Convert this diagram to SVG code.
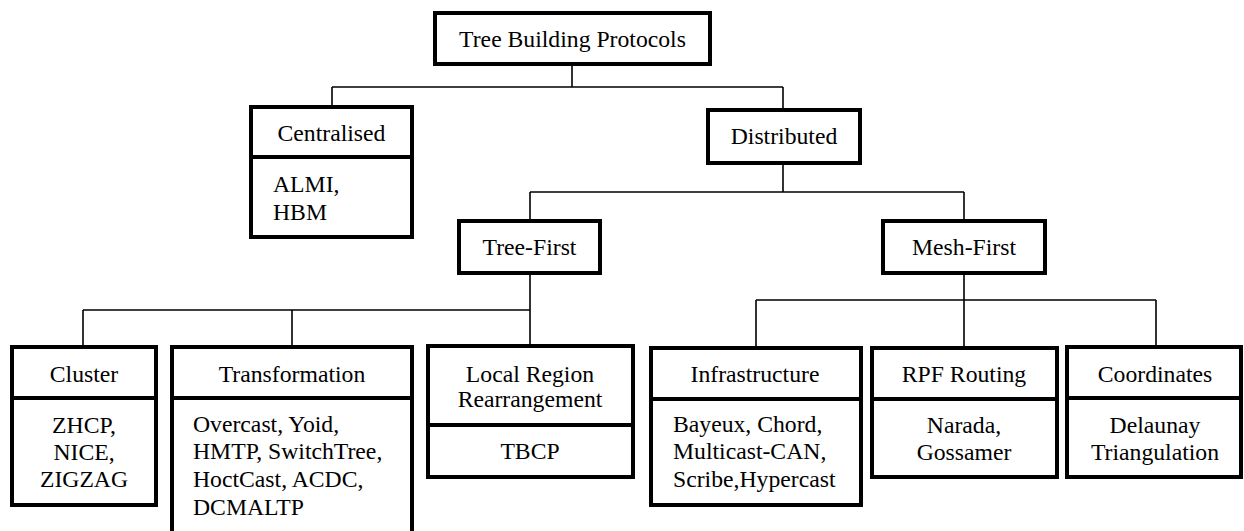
<svg xmlns="http://www.w3.org/2000/svg" width="1244" height="531" viewBox="0 0 1244 531">
<style>
.box{fill:#fff;stroke:#000;stroke-width:4}
.div{stroke:#000;stroke-width:4}
.con{fill:none;stroke:#000;stroke-width:1.6}
text{font-family:"Liberation Serif","Times New Roman",serif;font-size:23.7px;fill:#000}
.c{text-anchor:middle}
</style>
<rect width="1244" height="531" fill="#fff"/>
<g id="connectors">
<path class="con" d="M572,64 V87 M332,87 H783 M332,87 V107 M783,87 V110"/>
<path class="con" d="M783,163 V192 M530,192 H964 M530,192 V221 M964,192 V221"/>
<path class="con" d="M530,273 V347 M83,310 H530 M83,310 V347 M292,310 V347"/>
<path class="con" d="M964,273 V348 M756,300 H1156 M756,300 V348 M1156,300 V347"/>
</g>
<g id="root">
<rect class="box" x="435" y="13" width="275" height="51"/>
<text class="c" x="572.5" y="47">Tree Building Protocols</text>
</g>
<g id="centralised">
<rect class="box" x="251" y="107" width="161" height="130"/>
<line class="div" x1="251" y1="157" x2="412" y2="157"/>
<text class="c" x="331.5" y="141">Centralised</text>
<text x="273" y="192">ALMI,</text>
<text x="273" y="220">HBM</text>
</g>
<g id="distributed">
<rect class="box" x="708" y="110" width="152" height="53"/>
<text class="c" x="784" y="144">Distributed</text>
</g>
<g id="tree-first">
<rect class="box" x="459" y="221" width="141" height="52"/>
<text class="c" x="529.5" y="255">Tree-First</text>
</g>
<g id="mesh-first">
<rect class="box" x="883" y="221" width="162" height="52"/>
<text class="c" x="964" y="255">Mesh-First</text>
</g>
<g id="cluster">
<rect class="box" x="12" y="347" width="144" height="158"/>
<line class="div" x1="12" y1="398" x2="156" y2="398"/>
<text class="c" x="84" y="382">Cluster</text>
<text class="c" x="84" y="433">ZHCP,</text>
<text class="c" x="84" y="460">NICE,</text>
<text class="c" x="84" y="487">ZIGZAG</text>
</g>
<g id="transformation">
<rect class="box" x="172" y="347" width="240" height="186"/>
<line class="div" x1="172" y1="398" x2="412" y2="398"/>
<text class="c" x="292" y="382">Transformation</text>
<text x="193" y="432">Overcast, Yoid,</text>
<text x="193" y="459">HMTP, SwitchTree,</text>
<text x="193" y="487">HoctCast, ACDC,</text>
<text x="193" y="515">DCMALTP</text>
</g>
<g id="local-region">
<rect class="box" x="428" y="346" width="205" height="131"/>
<line class="div" x1="428" y1="425" x2="633" y2="425"/>
<text class="c" x="530" y="382">Local Region</text>
<text class="c" x="530" y="407">Rearrangement</text>
<text class="c" x="530" y="459">TBCP</text>
</g>
<g id="infrastructure">
<rect class="box" x="651" y="348" width="210" height="157"/>
<line class="div" x1="651" y1="399" x2="861" y2="399"/>
<text class="c" x="755" y="382">Infrastructure</text>
<text x="673" y="432">Bayeux, Chord,</text>
<text x="673" y="459">Multicast-CAN,</text>
<text x="673" y="487">Scribe,Hypercast</text>
</g>
<g id="rpf-routing">
<rect class="box" x="872" y="348" width="185" height="129"/>
<line class="div" x1="872" y1="399" x2="1057" y2="399"/>
<text class="c" x="964" y="382">RPF Routing</text>
<text class="c" x="964" y="433">Narada,</text>
<text class="c" x="964" y="460">Gossamer</text>
</g>
<g id="coordinates">
<rect class="box" x="1067" y="347" width="174" height="130"/>
<line class="div" x1="1067" y1="398" x2="1241" y2="398"/>
<text class="c" x="1155" y="382">Coordinates</text>
<text class="c" x="1155" y="433">Delaunay</text>
<text class="c" x="1155" y="460">Triangulation</text>
</g>
</svg>
